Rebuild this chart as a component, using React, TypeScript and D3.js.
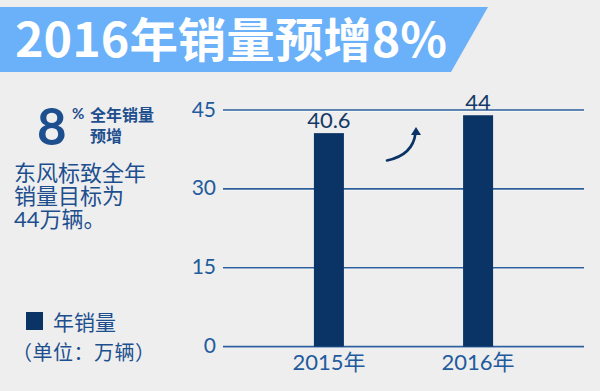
import React from 'react';
import * as d3 from 'd3';

// chart data
const years = ['2015年', '2016年'];
const sales = [40.6, 44];
const yTicks = [0, 15, 30, 45];
const titleText = '2016年销量预增8%';
const noteLines = ['东风标致全年', '销量目标为', '44万辆。'];

const W = 600, H = 391;
const navy = '#0b3466';
const textBlue = '#1d4f8f';
const tickBlue = '#225b9d';
const numFont = "Lato, 'Noto Sans CJK SC', sans-serif";
const cjkFont = "'Noto Sans CJK SC', sans-serif";

export default function App() {
  const left = 223, right = 584;
  const y = d3.scaleLinear().domain([0, 45]).range([346.6, 110]);
  const x = d3.scalePoint<string>().domain(years).range([left, right]).padding(0.71);
  const barW = 30;

  // curved "increase" arrow between the bars
  const arrowPath = d3.path();
  arrowPath.moveTo(387, 160.5);
  arrowPath.quadraticCurveTo(413, 155, 415.5, 133);

  return (
    <svg width={W} height={H} style={{ position: 'absolute', left: 0, top: 0, background: '#eeeeee' }}>
      <rect width={W} height={H} fill="#eeeeee" />

      {/* title banner */}
      <polygon points="0,7 488,7 451,72 0,72" fill="#6ab1f9" />
      <text x={15} y={57} fill="#ffffff" fontFamily={cjkFont} fontWeight="bold" fontSize={47}
        textLength={432} lengthAdjust="spacingAndGlyphs">{titleText}</text>

      {/* left note */}
      <text x={37} y={145} fill={textBlue} fontFamily={numFont} fontWeight="bold" fontSize={51}>8</text>
      <text x={72} y={119} fill={textBlue} fontFamily={numFont} fontWeight="bold" fontSize={15}>%</text>
      <text x={90} y={121} fill={textBlue} fontFamily={cjkFont} fontWeight="bold" fontSize={16}>全年销量</text>
      <text x={90} y={142} fill={textBlue} fontFamily={cjkFont} fontWeight="bold" fontSize={16}>预增</text>
      {noteLines.map((t, i) => (
        <text key={t} x={14} y={181 + i * 23} fill={textBlue} fontFamily={numFont} fontSize={22}>{t}</text>
      ))}

      {/* legend */}
      <rect x={26} y={312} width={17} height={18} fill={navy} />
      <text x={53} y={330} fill={textBlue} fontFamily={cjkFont} fontSize={21}>年销量</text>
      <text x={12} y={360} fill={textBlue} fontFamily={cjkFont} fontSize={20}
        textLength={143} lengthAdjust="spacing">（单位：万辆）</text>

      {/* gridlines and y ticks */}
      {yTicks.map(t => (
        <g key={t}>
          <line x1={left} x2={right} y1={y(t) + 1} y2={y(t) + 1} stroke="#ffffff" strokeWidth={1} />
          <line x1={left} x2={right} y1={y(t)} y2={y(t)} stroke="#2d5f9c" strokeWidth={1.6} />
          <text x={216} y={y(t) + 6.5} textAnchor="end" fill={tickBlue} fontFamily={numFont} fontSize={21}>{t}</text>
        </g>
      ))}

      {/* bars */}
      {years.map((yr, i) => {
        const cx = x(yr) as number;
        return (
          <g key={yr}>
            <rect x={cx - barW / 2} y={y(sales[i])} width={barW} height={y(0) - y(sales[i])} fill={navy} />
            <text x={cx} y={y(sales[i]) - 5} textAnchor="middle" fill="#133a66" fontFamily={numFont} fontSize={22}>{sales[i]}</text>
            <text x={cx} y={370} textAnchor="middle" fill={tickBlue} fontFamily={numFont} fontSize={22}>{yr}</text>
          </g>
        );
      })}

      {/* arrow */}
      <path d={arrowPath.toString()} fill="none" stroke={navy} strokeWidth={2.6} strokeLinecap="round" />
      <polygon points="416,127 411,135 421,135" fill={navy} />
    </svg>
  );
}
